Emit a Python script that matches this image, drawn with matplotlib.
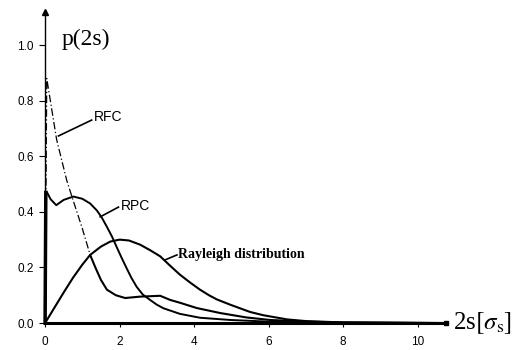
import matplotlib
matplotlib.use("Agg")
import matplotlib.pyplot as plt

plt.rcParams["mathtext.fontset"] = "stix"

# ---------------------------------------------------------------------------
# Data
# ---------------------------------------------------------------------------
rfc_x = [0.0, 0.045, 0.31, 0.58, 0.72, 1.0, 1.21, 1.35, 1.5, 1.66, 1.9, 2.15,
         2.55, 3.09, 3.36, 3.62, 4.07, 4.7, 5.41, 6.04, 7.0, 8.0, 10.7]
rfc_y = [0.0, 0.88, 0.66, 0.514, 0.455, 0.34, 0.245, 0.2, 0.155, 0.12, 0.10, 0.09,
         0.095, 0.098, 0.083, 0.073, 0.054, 0.036, 0.02, 0.011, 0.005, 0.002, 0.0]
rfc_dash_end = 7          # first points drawn dash-dot, rest solid

rpc_x = [0.0, 0.02, 0.045, 0.15, 0.3, 0.5, 0.76, 1.0, 1.21, 1.39, 1.52, 1.66,
         1.8, 1.92, 2.05, 2.19, 2.32, 2.46, 2.62, 2.82, 3.0, 3.18, 3.62, 4.16,
         4.97, 6.0, 7.0, 10.7]
rpc_y = [0.0, 0.47, 0.472, 0.445, 0.424, 0.443, 0.455, 0.447, 0.43, 0.405,
         0.38, 0.346, 0.31, 0.274, 0.236, 0.197, 0.162, 0.13, 0.103, 0.083,
         0.066, 0.053, 0.033, 0.019, 0.011, 0.005, 0.002, 0.0]

ray_x = [0.0, 0.25, 0.5, 0.75, 1.0, 1.21, 1.5, 1.75, 2.0, 2.25, 2.55, 2.82,
         3.09, 3.35, 3.62, 3.9, 4.16, 4.4, 4.61, 4.97, 5.5, 5.86, 6.5, 7.0,
         8.0, 10.7]
ray_y = [0.0, 0.055, 0.11, 0.163, 0.21, 0.245, 0.275, 0.293, 0.30, 0.297,
         0.282, 0.262, 0.24, 0.207, 0.174, 0.145, 0.12, 0.1, 0.085, 0.066,
         0.04, 0.028, 0.013, 0.007, 0.002, 0.0]

x_ticks = [0, 2, 4, 6, 8, 10]
y_ticks = [0.0, 0.2, 0.4, 0.6, 0.8, 1.0]

# ---------------------------------------------------------------------------
# Figure
# ---------------------------------------------------------------------------
fig = plt.figure(figsize=(5.23, 3.5), dpi=100)
ax = fig.add_axes([0, 0, 1, 1])
ax.set_xlim(-1.21, 12.83)
ax.set_ylim(-0.097, 1.162)

for side in ("top", "right"):
    ax.spines[side].set_visible(False)
ax.spines["left"].set_position(("data", 0))
ax.spines["bottom"].set_position(("data", 0))
ax.spines["left"].set_bounds(0, 1.11)
ax.spines["bottom"].set_bounds(0, 10.75)
ax.spines["left"].set_linewidth(1.0)
ax.spines["bottom"].set_linewidth(2.2)

ax.set_xticks(x_ticks)
ax.set_yticks(y_ticks)
ax.set_xticklabels([str(v) for v in x_ticks])
ax.set_yticklabels([f"{v:.1f}" for v in y_ticks])
ax.tick_params(axis="x", direction="out", length=3, width=0.8, pad=6,
               labelsize=8.5)
ax.tick_params(axis="y", direction="out", length=4, width=0.8, pad=4,
               labelsize=8.5)
for lab in ax.get_xticklabels() + ax.get_yticklabels():
    lab.set_family("Liberation Sans")

# axis ends
ax.plot([0], [1.12], marker="^", color="black", markersize=5,
        clip_on=False)
ax.plot([10.75], [0], marker="s", color="black", markersize=3.5,
        clip_on=False)

# curves
line_kw = dict(color="black", solid_joinstyle="round", solid_capstyle="round")
ax.plot(rfc_x[:rfc_dash_end], rfc_y[:rfc_dash_end], color="black",
        linewidth=0.9, linestyle=(0, (6, 2, 1, 2)))
ax.plot(rfc_x[rfc_dash_end - 1:], rfc_y[rfc_dash_end - 1:], linewidth=1.5,
        **line_kw)
ax.plot(rpc_x, rpc_y, linewidth=1.4, **line_kw)
ax.plot([0, 0.02], [0, 0.47], color="black", linewidth=2.5)
ax.plot(ray_x, ray_y, linewidth=1.5, **line_kw)

# labels with leader lines
ax.plot([0.36, 1.25], [0.673, 0.73], color="black", linewidth=1.2)
ax.text(1.32, 0.74, "RFC", fontsize=10, family="Liberation Sans", va="center")
ax.plot([1.48, 1.97], [0.382, 0.417], color="black", linewidth=1.2)
ax.text(2.03, 0.42, "RPC", fontsize=10, family="Liberation Sans", va="center")
ax.plot([3.22, 3.54], [0.227, 0.245], color="black", linewidth=1.2)
ax.text(3.58, 0.245, "Rayleigh distribution", fontsize=10,
        family="Liberation Serif", weight="bold", va="center")

ax.text(0.45, 1.02, "p(2s)", fontsize=17, family="Liberation Serif",
        va="center", ha="left")
ax.text(10.95, 0.0, r"2s$[\sigma_{\rm s}]$", fontsize=18,
        family="Liberation Serif", va="center", ha="left")

fig.savefig("out.png", dpi=100)
